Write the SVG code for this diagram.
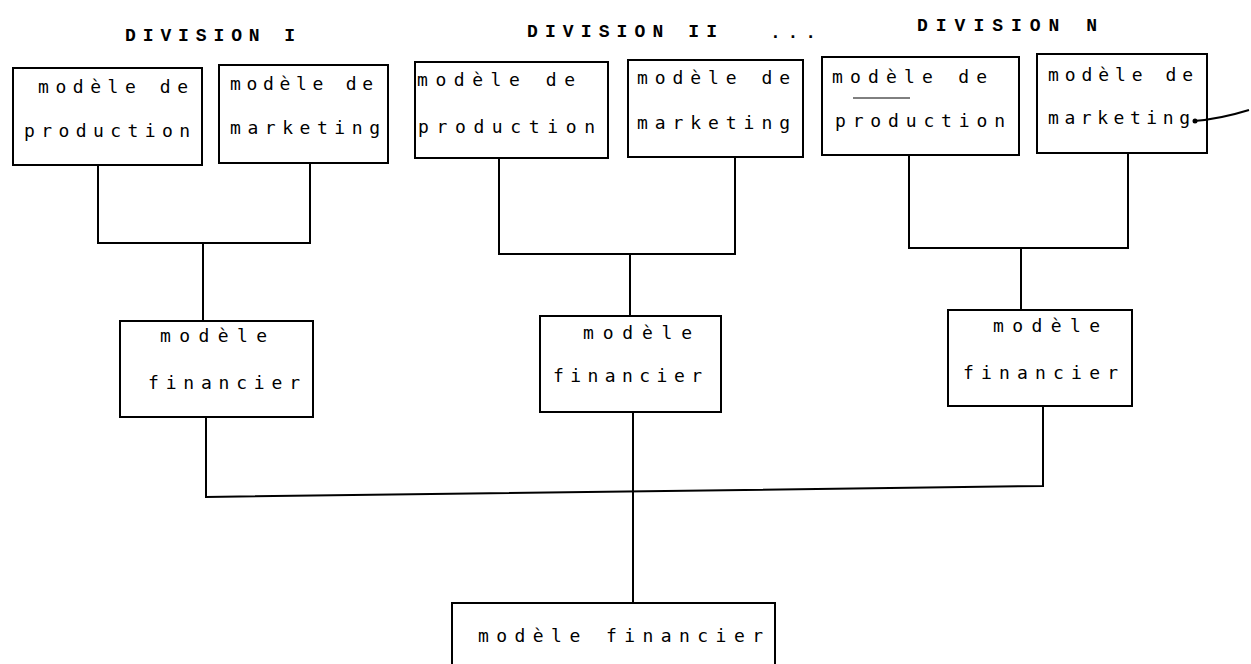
<svg xmlns="http://www.w3.org/2000/svg" width="1251" height="664" viewBox="0 0 1251 664">
<style>
  .box { fill: #fff; stroke: #000; stroke-width: 2; }
  .t { font-family: "DejaVu Sans Mono", "Liberation Mono", monospace; font-size: 18px; fill: #000; }
  .h { font-family: "Liberation Mono", "DejaVu Sans Mono", monospace; font-size: 18px; font-weight: bold; fill: #000; }
  .c { fill: none; stroke: #000; stroke-width: 2; }
  .m { fill: none; stroke: #000; stroke-width: 1; }
</style>
<rect width="1251" height="664" fill="#fff"/>

<g id="headers">
  <text class="h" x="125" y="41" textLength="170" lengthAdjust="spacing">DIVISION I</text>
  <text class="h" x="527" y="37" textLength="190" lengthAdjust="spacing">DIVISION II</text>
  <text class="h" x="770" y="38" textLength="46" lengthAdjust="spacing">. . .</text>
  <text class="h" x="917" y="31" textLength="180" lengthAdjust="spacing">DIVISION N</text>
</g>

<g id="connectors">
  <path class="c" d="M98,165 V243 H310 V163"/>
  <path class="c" d="M203,243 V321"/>
  <path class="c" d="M499,158 V254 H735 V157"/>
  <path class="c" d="M630,254 V316"/>
  <path class="c" d="M909,155 V248 H1128 V153"/>
  <path class="c" d="M1021,248 V310"/>
  <path class="c" d="M206,417 V497 L1043,486 V406"/>
  <path class="c" d="M633,412 V603"/>
</g>

<g id="prod1">
  <rect class="box" x="13" y="68" width="189" height="97"/>
  <text class="t" x="38" y="93" textLength="150" lengthAdjust="spacing">modèle de</text>
  <text class="t" x="24" y="137" textLength="166" lengthAdjust="spacing">production</text>
</g>
<g id="mkt1">
  <rect class="box" x="219" y="65" width="169" height="98"/>
  <text class="t" x="230" y="90" textLength="143" lengthAdjust="spacing">modèle de</text>
  <text class="t" x="230" y="134" textLength="150" lengthAdjust="spacing">marketing</text>
</g>
<g id="prod2">
  <rect class="box" x="415" y="62" width="193" height="96"/>
  <text class="t" x="417" y="86" textLength="158" lengthAdjust="spacing">modèle de</text>
  <text class="t" x="418" y="133" textLength="177" lengthAdjust="spacing">production</text>
</g>
<g id="mkt2">
  <rect class="box" x="628" y="60" width="175" height="97"/>
  <text class="t" x="637" y="84" textLength="153" lengthAdjust="spacing">modèle de</text>
  <text class="t" x="637" y="129" textLength="153" lengthAdjust="spacing">marketing</text>
</g>
<g id="prodN">
  <rect class="box" x="822" y="57" width="197" height="98"/>
  <text class="t" x="832" y="83" textLength="155" lengthAdjust="spacing">modèle de</text>
  <path class="m" d="M853,98 H910"/>
  <text class="t" x="835" y="127" textLength="170" lengthAdjust="spacing">production</text>
</g>
<g id="mktN">
  <rect class="box" x="1037" y="54" width="170" height="99"/>
  <text class="t" x="1048" y="81" textLength="145" lengthAdjust="spacing">modèle de</text>
  <text class="t" x="1048" y="124" textLength="142" lengthAdjust="spacing">marketing</text>
  <path d="M1194,121 Q1220,119 1249,110" fill="none" stroke="#000" stroke-width="2"/>
  <circle cx="1195" cy="121" r="2.5" fill="#000"/>
</g>

<g id="fin1">
  <rect class="box" x="120" y="321" width="193" height="96"/>
  <text class="t" x="160" y="342" textLength="107" lengthAdjust="spacing">modèle</text>
  <text class="t" x="148" y="389" textLength="152" lengthAdjust="spacing">financier</text>
</g>
<g id="fin2">
  <rect class="box" x="540" y="316" width="181" height="96"/>
  <text class="t" x="583" y="339" textLength="109" lengthAdjust="spacing">modèle</text>
  <text class="t" x="553" y="382" textLength="149" lengthAdjust="spacing">financier</text>
</g>
<g id="finN">
  <rect class="box" x="948" y="310" width="184" height="96"/>
  <text class="t" x="993" y="332" textLength="107" lengthAdjust="spacing">modèle</text>
  <text class="t" x="963" y="379" textLength="155" lengthAdjust="spacing">financier</text>
</g>
<g id="finGlobal">
  <rect class="box" x="452" y="603" width="323" height="80"/>
  <text class="t" x="478" y="642" textLength="285" lengthAdjust="spacing">modèle financier</text>
</g>
</svg>
